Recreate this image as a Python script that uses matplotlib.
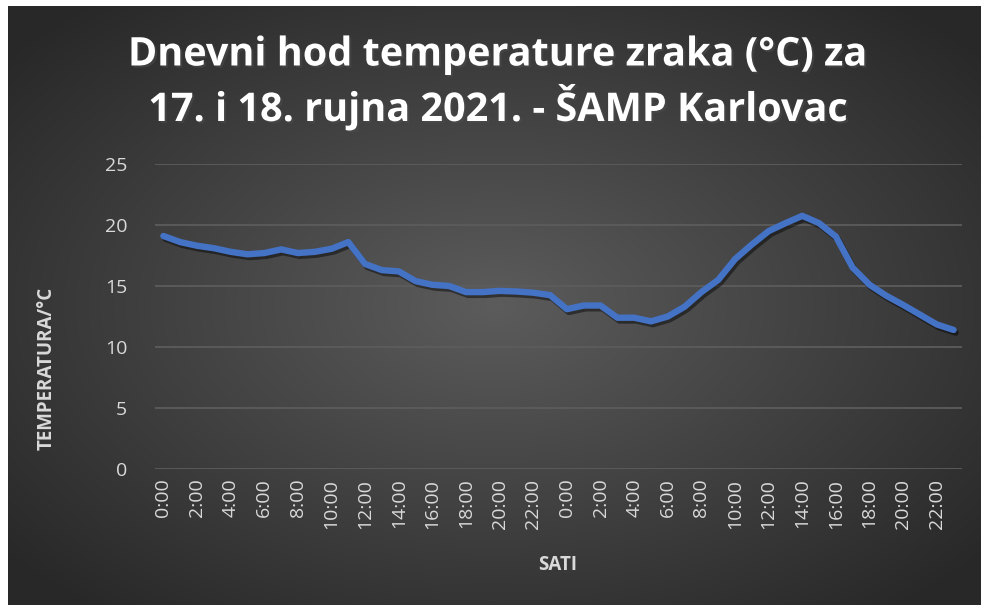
import numpy as np
import matplotlib
matplotlib.use("Agg")
from matplotlib import pyplot as plt
import matplotlib.patheffects as pe

# hourly air temperature, 17 and 18 Sept 2021
hours = [f"{h}:00" for h in range(24)] * 2
temps = [19.1, 18.6, 18.3, 18.1, 17.8, 17.6, 17.7, 18.0, 17.7, 17.8, 18.05, 18.6,
         16.8, 16.3, 16.2, 15.4, 15.1, 15.0, 14.5, 14.5, 14.6, 14.55, 14.45, 14.25,
         13.1, 13.4, 13.4, 12.4, 12.4, 12.1, 12.5, 13.3, 14.5, 15.5, 17.2, 18.4,
         19.5, 20.15, 20.75, 20.15, 19.05, 16.5, 15.1, 14.2, 13.45, 12.65, 11.85, 11.4]
yticks = [0, 5, 10, 15, 20, 25]

W, H = 981, 605
fig = plt.figure(figsize=(W / 100, H / 100), dpi=100, facecolor='white')

# dark radial-gradient background
bg = fig.add_axes([8 / W, 0, 1 - 8 / W, 1 - 6 / H])
bg.set_axis_off()
gx, gy = np.meshgrid(np.linspace(-1, 1, 400), np.linspace(-1, 1, 250))
r = np.clip(np.sqrt(gx ** 2 + gy ** 2) / 1.3, 0, 1)
shade = 0.36 - 0.20 * r
bg.imshow(np.dstack([shade, shade, shade]), aspect='auto', extent=[0, 1, 0, 1],
          interpolation='bilinear')

ax = fig.add_axes([155 / W, 1 - 469 / H, (962 - 155) / W, (469 - 164) / H])
ax.patch.set_alpha(0)
x = np.arange(len(temps))
ax.plot(x, temps, color='#4472C4', lw=4.6, solid_capstyle='round', solid_joinstyle='round',
        path_effects=[pe.SimpleLineShadow(offset=(1.5, -2), shadow_color='black', alpha=0.45),
                      pe.Normal()])
ax.set_xlim(-0.5, len(temps) - 0.5)
ax.set_ylim(0, 25)
ax.set_yticks(yticks)
ax.set_xticks(x[::2])
ax.set_xticklabels(hours[::2], rotation=90)
ax.grid(axis='y', color='#5c5c5c', lw=1.3)
ax.set_axisbelow(True)
for s in ax.spines.values():
    s.set_visible(False)
ax.tick_params(length=0, labelsize=14, labelcolor='#d9d9d9', pad=7)
ax.tick_params(axis='y', pad=20)
for lab in ax.get_xticklabels() + ax.get_yticklabels():
    lab.set_fontfamily('Open Sans')

fig.text(47 / W, 1 - 368 / H, 'TEMPERATURA/°C', fontsize=13.5, fontweight='bold',
         color='#d9d9d9', fontfamily='Open Sans', rotation=90, ha='center', va='center')
fig.text(558 / W, 1 - 565 / H, 'SATI', fontsize=13.5, fontweight='bold', color='#d9d9d9',
         fontfamily='Open Sans', ha='center', va='center')

for txt, yy in [('Dnevni hod temperature zraka (°C) za', 55),
                ('17. i 18. rujna 2021. - ŠAMP Karlovac', 107)]:
    fig.text(498 / W, 1 - yy / H, txt, fontsize=28.5, fontweight='bold', color='white',
             fontfamily='Open Sans', ha='center', va='center',
             path_effects=[pe.SimplePatchShadow(offset=(1.5, -1.5), alpha=0.5), pe.Normal()])

fig.savefig('out.png', dpi=100, facecolor='white')
